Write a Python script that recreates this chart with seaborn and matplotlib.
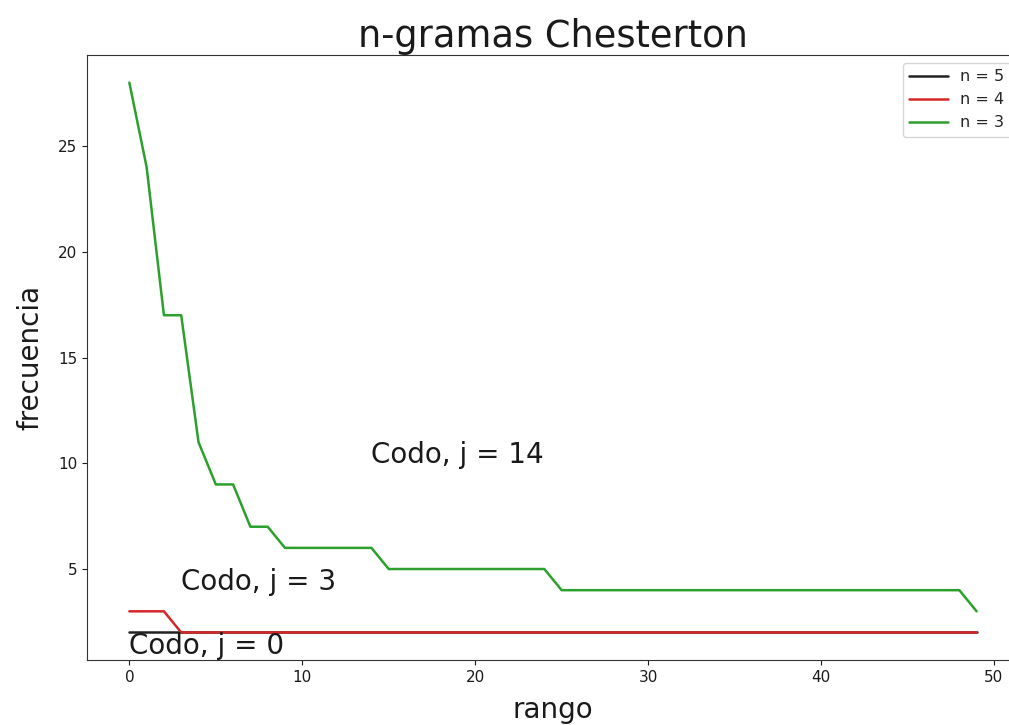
import matplotlib
matplotlib.use("Agg")
import matplotlib.pyplot as plt
import seaborn as sns
import numpy as np
import pandas as pd

rango = list(range(50))
freq_n5 = [2] * 50
freq_n4 = [3, 3, 3] + [2] * 47
freq_n3 = [28, 24, 17, 17, 11, 9, 9, 7, 7, 6, 6, 6, 6, 6, 6] + [5] * 10 + [4] * 24 + [3]

series_labels = ["n = 5", "n = 4", "n = 3"]
series_values = [freq_n5, freq_n4, freq_n3]
series_colors = ["#222222", "#d62728", "#2ca02c"]

codo_labels = ["Codo, j = 0", "Codo, j = 3", "Codo, j = 14"]
codo_x = [0, 3, 14]
codo_y = [1, 4, 10]

sns.set_style("ticks")
plt.rcParams['font.family'] = ['DejaVu Sans']

fig = plt.figure(figsize=(10.09, 7.25), dpi=100)
ax = fig.add_axes([0.0862, 0.0897, 1.0099 - 0.0862, 0.924 - 0.0897])

for lab, vals, col in zip(series_labels, series_values, series_colors):
    df = pd.DataFrame({"rango": rango, "frecuencia": vals})
    sns.lineplot(data=df, x="rango", y="frecuencia", color=col, label=lab, ax=ax, linewidth=1.8)

for t, x, y in zip(codo_labels, codo_x, codo_y):
    ax.text(x, y, t, fontsize=20, color="#1a1a1a")

ax.set_title("n-gramas Chesterton", fontsize=26.5, color="#1a1a1a")
ax.set_xlabel("rango", fontsize=20, color="#1a1a1a", labelpad=8)
ax.set_ylabel("frecuencia", fontsize=20, color="#1a1a1a", labelpad=10)
ax.set_xlim(-2.45, 51.45)
ax.set_ylim(0.7, 29.3)
ax.set_xticks([0, 10, 20, 30, 40, 50])
ax.set_yticks([5, 10, 15, 20, 25])
ax.tick_params(labelsize=11, colors="#1a1a1a")
leg = ax.legend(loc="upper right", fontsize=11.5, frameon=True, handlelength=2.4)
for sp in ax.spines.values():
    sp.set_color("#333333")

fig.savefig("out.png", dpi=100)
